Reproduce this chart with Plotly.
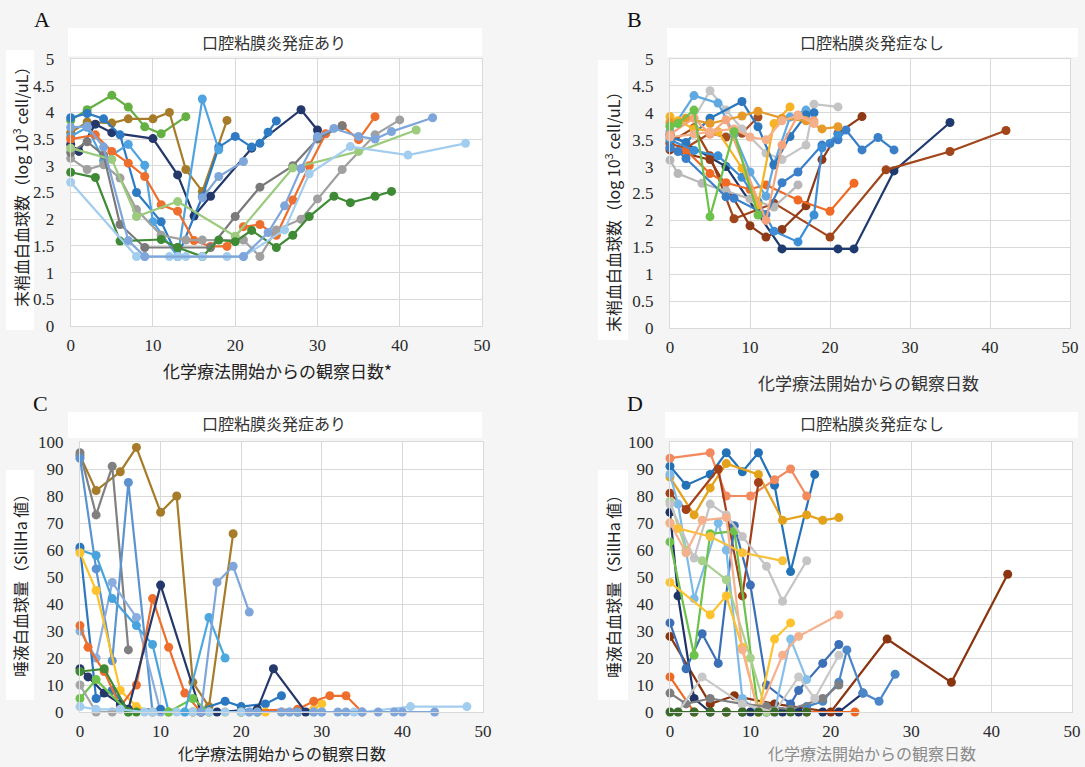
import plotly.graph_objects as go

W, H = 1085, 767

# ---------------- Panel A: peripheral WBC, mucositis (+) ----------------
a_days = [
    [0, 2, 5, 7, 9, 11, 14],
    [0, 2, 5, 7, 10, 12, 14, 16, 19],
    [0, 1, 3, 5, 10, 13, 15, 17, 22, 28, 30],
    [0, 2, 4, 6, 8, 11, 13, 16, 18, 20, 22, 23, 24, 25],
    [0, 2, 4, 7, 9, 10, 13, 16, 18],
    [0, 3, 5, 7, 9, 11, 13, 15, 17, 19, 21, 23, 25, 27, 29, 31, 33, 35, 37],
    [0, 2, 4, 6, 8, 11, 14, 16, 21, 23, 25, 28, 30, 33, 37, 40],
    [0, 2, 4, 6, 9, 13, 17, 20, 23, 27, 30, 33],
    [0, 5, 8, 13, 20, 27, 35, 42],
    [0, 3, 6, 11, 13, 16, 18, 20, 22, 25, 27, 29, 32, 34, 37, 39],
    [0, 8, 9, 12, 13, 14, 16, 19, 21, 26, 29, 34, 41, 48],
    [0, 2, 4, 7, 9, 21, 24, 26, 28, 30, 32, 35, 37, 39, 44],
    [16, 18, 21],
]
a_wbc = [
    [3.85, 4.05, 4.32, 4.10, 3.73, 3.60, 3.92],
    [3.62, 3.82, 3.80, 3.88, 3.88, 4.00, 2.93, 2.52, 3.85],
    [3.40, 3.27, 3.78, 3.62, 3.51, 2.83, 2.06, 2.43, 3.33, 4.05, 3.67],
    [3.90, 3.98, 3.88, 3.58, 2.50, 1.95, 1.30, 2.42, 3.35, 3.55, 3.35, 3.42, 3.63, 3.84],
    [3.55, 3.72, 3.10, 3.40, 3.01, 1.95, 1.30, 4.25, 3.30],
    [3.50, 3.58, 3.27, 3.05, 2.80, 2.27, 2.15, 1.60, 1.49, 1.49, 1.86, 1.90, 1.70, 2.36, 3.00, 3.60, 3.75, 3.49, 3.92],
    [3.14, 2.93, 3.02, 2.77, 2.18, 1.70, 1.61, 1.61, 1.61, 1.30, 1.80, 2.00, 2.38, 2.93, 3.58, 3.86],
    [3.25, 3.45, 3.20, 1.90, 1.47, 1.47, 1.47, 2.05, 2.60, 3.00, 3.50, 3.75],
    [3.33, 3.12, 2.05, 2.33, 1.68, 2.96, 3.27, 3.67],
    [2.88, 2.78, 1.59, 1.62, 1.47, 1.30, 1.61, 1.58, 1.79, 1.47, 1.70, 2.05, 2.43, 2.31, 2.43, 2.52],
    [2.69, 1.30, 1.30, 1.30, 1.30, 1.30, 1.30, 1.30, 1.30, 1.80, 2.85, 3.36, 3.20, 3.42],
    [3.72, 3.74, 3.35, 1.60, 1.30, 1.30, 1.75, 2.25, 2.95, 3.55, 3.70, 3.55, 3.50, 3.64, 3.90],
    [2.40, 2.80, 3.08],
]
a_colors = ["#64b043", "#a67c2a", "#25386b", "#2e7bc4", "#4ea3e0", "#ee6f2d", "#a0a0a0",
            "#7a7a7a", "#9ccb7e", "#3f8a35", "#a3cdee", "#7fa6da", "#7fa6da"]

# ---------------- Panel B: peripheral WBC, mucositis (-) ----------------
b_days = [
    [0, 7, 14, 21, 23, 28, 35],
    [0, 3, 5, 8, 13, 20, 27, 35, 42],
    [0, 5, 10, 12, 14, 17, 19, 21, 24],
    [0, 2, 5, 7, 9, 11],
    [0, 2, 5, 7, 10, 12, 16, 20, 23],
    [0, 1, 4, 7, 10, 13, 16],
    [0, 3, 5, 7, 9, 12, 14, 17, 18, 21],
    [0, 3, 6, 8, 10, 12, 13, 15, 17],
    [0, 2, 5, 9, 11, 13, 15, 17, 18],
    [0, 1, 2, 7, 8, 12, 14, 16, 19, 20, 21, 22, 24, 26, 28],
    [0, 3, 6, 9, 11, 13, 16, 18, 19, 21],
    [0, 1, 3, 6, 9, 11, 13, 15],
    [0, 2, 5, 9, 11, 14, 17, 19, 21],
    [0, 3, 5, 7, 12, 14, 16, 18],
    [0, 3, 5, 8, 10, 12, 14, 16, 18],
    [0, 1, 3, 5, 8, 11],
]
b_wbc = [
    [3.60, 3.00, 1.47, 1.47, 1.47, 2.92, 3.82],
    [3.45, 3.72, 3.20, 2.03, 2.32, 1.69, 2.94, 3.28, 3.67],
    [3.31, 3.13, 1.90, 1.69, 1.83, 2.27, 3.13, 3.62, 3.93],
    [3.42, 3.35, 3.62, 3.55, 3.62, 3.92],
    [3.35, 3.30, 2.87, 2.70, 2.58, 2.66, 2.38, 2.17, 2.69],
    [3.12, 2.87, 2.69, 2.55, 2.40, 2.25, 2.66],
    [3.75, 3.90, 4.41, 4.05, 3.70, 3.25, 3.13, 3.40, 4.16, 4.11],
    [3.65, 4.32, 4.18, 3.60, 2.90, 2.45, 3.05, 3.92, 4.05],
    [3.55, 3.45, 3.90, 4.21, 3.74, 3.03, 3.56, 3.96, 4.00],
    [3.35, 3.28, 3.15, 2.44, 2.41, 2.11, 2.70, 2.90, 3.40, 3.43, 3.50, 3.68, 3.31, 3.54, 3.31],
    [3.50, 3.30, 3.20, 2.80, 2.35, 1.80, 1.60, 2.10, 3.35, 3.60],
    [3.93, 3.85, 3.70, 3.65, 2.97, 2.29, 3.80, 4.11],
    [3.82, 3.90, 3.80, 3.94, 4.03, 3.90, 3.85, 3.70, 3.74],
    [3.60, 3.90, 3.60, 3.87, 2.00, 3.40, 3.96, 3.85],
    [3.55, 3.60, 3.65, 3.70, 3.55, 3.50, 3.85, 3.95, 3.80],
    [3.75, 3.80, 4.05, 2.07, 3.65, 2.10],
]
b_colors = ["#1f3a6e", "#a0461a", "#8e3a16", "#a84d22", "#f06a25", "#b8b8b8", "#c4c4c4",
            "#5fa8e0", "#2b78be", "#3a7fc8", "#3c8ed6", "#f5b325", "#e69a2a", "#f5a47c",
            "#f4b08a", "#6cc24a"]

# ---------------- Panel C: salivary WBC, mucositis (+) ----------------
c_days = [
    [0, 2, 5, 7, 10, 12, 14, 16, 19],
    [0, 2, 4, 6],
    [0, 2, 4, 6, 9],
    [0, 2, 4, 7, 10],
    [0, 2, 4, 7, 9, 11],
    [0, 2, 4, 6, 10, 14, 18, 20, 23, 25],
    [0, 2, 5, 7, 9, 11, 14, 16, 18, 20, 23, 25, 29, 30],
    [0, 1, 3, 5, 7, 9, 11, 13, 15, 27, 29, 31, 33, 35],
    [0, 1, 3, 5, 6, 10, 15, 17, 22, 24, 28],
    [0, 2, 6, 11, 14, 16],
    [0, 3, 6, 7, 20, 22, 27],
    [0, 2, 4],
    [0, 2, 5, 8, 9, 12, 13, 14, 16, 18, 20, 21, 25, 26, 29, 30, 34, 35, 41, 48],
    [21, 22, 25, 26, 27, 29, 30, 32, 33, 35, 37, 39, 40, 44],
    [13, 16, 18],
    [15, 17, 19, 21],
]
c_saliva = [
    [95, 82, 89, 98, 74, 80, 11, 2, 66],
    [96, 73, 91, 23],
    [94, 53, 19, 85, 0],
    [30, 20, 48, 35, 0],
    [60, 58, 42, 32, 25, 0],
    [61, 5, 8, 1, 1, 0, 4, 2, 3, 6],
    [59, 45, 8, 2, 0, 0, 0, 0, 0, 0, 0, 0, 1, 3],
    [32, 24, 15, 2, 10, 42, 24, 7, 0, 1, 4, 6, 6, 0],
    [16, 13, 7, 3, 1, 47, 0, 0, 1, 16, 0],
    [5, 12, 0, 0, 5, 0],
    [15, 16, 0, 0, 0, 0, 0],
    [10, 0, 0],
    [2, 1, 1, 0, 0, 0, 0, 0, 0, 0, 0, 0, 0, 0, 0, 0, 0, 0, 2, 2],
    [0, 0, 0, 0, 0, 0, 0, 0, 0, 0, 0, 0, 0, 0],
    [0, 35, 20],
    [0, 48, 54, 37],
]
c_colors = ["#a67c2a", "#808080", "#5b93d0", "#8aaddd", "#48a3dd", "#2c78c0", "#fdc22c",
            "#ee6f2d", "#25386b", "#6cc24a", "#3f8a35", "#a5a5a5", "#a3cdee", "#7fa6da",
            "#4ea8e0", "#7fa6da"]

# ---------------- Panel D: salivary WBC, mucositis (-) ----------------
d_days = [
    [0, 2, 5, 7, 9, 11, 13, 15, 18],
    [0, 5, 7, 10, 13, 15, 17],
    [0, 3, 5, 7, 11, 14, 17, 19, 21],
    [0, 2, 6, 9, 11],
    [0, 5, 8, 13, 20, 27, 35, 42],
    [0, 1, 3, 5, 7, 9, 10, 12, 14, 16, 19, 21, 24],
    [0, 2, 4, 6, 8, 10, 12, 15, 16, 19, 21],
    [17, 19, 21, 22, 24, 26, 28],
    [0, 1, 3, 6, 7, 9, 11],
    [13, 15, 17],
    [0, 3, 5, 8, 11],
    [0, 2, 4, 7, 10, 12],
    [0, 3, 5, 7, 9, 12, 14, 17],
    [0, 5, 7, 9, 11, 13, 15],
    [0, 1, 5, 9, 14],
    [0, 2, 4, 7, 9, 11, 14, 16, 21],
    [0, 3, 7, 17, 23],
    [0, 2, 5, 9, 12, 15, 19, 21],
    [1, 4, 9, 13, 16, 18, 21],
    [0, 1, 3, 5, 7, 9, 11, 13, 15, 17],
]
d_saliva = [
    [91, 84, 88, 96, 89, 96, 84, 52, 88],
    [94, 96, 80, 80, 86, 90, 80],
    [87, 73, 83, 92, 88, 71, 73, 71, 72],
    [81, 75, 90, 43, 85],
    [28, 3, 6, 3, 0, 27, 11, 51],
    [74, 43, 5, 0, 0, 0, 0, 0, 0, 0, 0, 0, 7],
    [33, 16, 29, 18, 69, 47, 10, 3, 8, 18, 25],
    [2, 4, 11, 23, 7, 4, 14],
    [88, 77, 42, 70, 60, 5, 0],
    [0, 27, 12],
    [63, 21, 66, 67, 0],
    [78, 60, 56, 49, 20, 0],
    [77, 57, 77, 73, 65, 54, 41, 56],
    [48, 36, 43, 24, 0, 27, 33],
    [70, 68, 65, 59, 56],
    [70, 59, 71, 72, 23, 0, 21, 28, 36],
    [13, 0, 0, 0, 0],
    [7, 3, 5, 3, 2, 1, 5, 10],
    [0, 13, 3, 0, 13, 5, 21],
    [0, 0, 0, 0, 0, 0, 0, 0, 0, 0],
]
d_colors = ["#2372b8", "#f28a5e", "#e3a21a", "#a3401a", "#8b3510", "#1f3366", "#3b6fb6",
            "#4a86c8", "#7dbae8", "#86c0ea", "#6cc24a", "#a9d18e", "#c4c4c4", "#fdc22c",
            "#f7c23a", "#f7b08c", "#ee6a22", "#7f7f7f", "#c8c8c8", "#3a6b2a"]

panel_titles = ["口腔粘膜炎発症あり", "口腔粘膜炎発症なし", "口腔粘膜炎発症あり", "口腔粘膜炎発症なし"]
x_title = "化学療法開始からの観察日数"
y_title_wbc = "末梢血白血球数（log 10<sup>3</sup> cell/uL）"
y_title_saliva = "唾液白血球量（SillHa 値）"

# ---------------- layout geometry (pixels) ----------------
def px(x):
    return x / W

def py(y):
    return 1 - y / H

panels = [
    # axis suffix, x0, x1, ybottom, ytop, yrange, dtick
    ("", 70.7, 482, 326, 59, [0, 5], 0.5),
    ("2", 670, 1070, 328, 59, [0, 5], 0.5),
    ("3", 80, 483, 712, 442, [0, 100], 10),
    ("4", 670, 1072, 712, 442, [0, 100], 10),
]

fig = go.Figure()

all_data = [(a_days, a_wbc, a_colors), (b_days, b_wbc, b_colors),
            (c_days, c_saliva, c_colors), (d_days, d_saliva, d_colors)]

for (suffix, *_), (days, vals, cols) in zip(panels, all_data):
    for dd, vv, cc in zip(days, vals, cols):
        fig.add_trace(go.Scatter(
            x=dd, y=vv, mode="lines+markers",
            xaxis="x" + suffix, yaxis="y" + suffix,
            line=dict(color=cc, width=2.2),
            marker=dict(color=cc, size=9),
            cliponaxis=False, showlegend=False, hoverinfo="skip"))

tickfont = dict(family="Liberation Serif", size=17, color="#2a2a2a")
layout = dict(
    width=W, height=H, margin=dict(l=0, r=0, t=0, b=0, autoexpand=False),
    paper_bgcolor="#f5f5f5", plot_bgcolor="#ffffff", showlegend=False,
)
for suffix, x0, x1, yb, yt, yr, dt in panels:
    layout["xaxis" + suffix] = dict(
        domain=[px(x0), px(x1)], range=[0, 50], dtick=10, anchor="y" + suffix,
        showgrid=True, gridcolor="#d9d9d9", gridwidth=1, zeroline=False,
        showline=True, linecolor="#d9d9d9", mirror=True, automargin=False,
        tickfont=tickfont, ticks="", ticklabelstandoff=4)
    layout["yaxis" + suffix] = dict(
        domain=[py(yb), py(yt)], range=yr, dtick=dt, anchor="x" + suffix,
        showgrid=True, gridcolor="#d9d9d9", gridwidth=1, zeroline=False,
        showline=True, linecolor="#d9d9d9", mirror=True, automargin=False,
        tickfont=tickfont, ticks="", ticklabelstandoff=12)
fig.update_layout(**layout)

# white boxes behind titles / y-axis titles
boxes = [(68, 28, 482, 56), (667, 28, 1078, 57), (68, 412, 482, 438), (665, 412, 1078, 438),
         (6, 50, 34, 330), (598, 60, 628, 340), (6, 470, 34, 700), (598, 470, 628, 700)]
for x0, y0, x1, y1 in boxes:
    fig.add_shape(type="rect", xref="paper", yref="paper", x0=px(x0), x1=px(x1),
                  y0=py(y1), y1=py(y0), fillcolor="#ffffff", line=dict(width=0), layer="below")

ann = []
jp = "Noto Sans CJK JP"
# panel letters
for lab, x, y in [("A", 42, 20), ("B", 634, 20), ("C", 40, 403), ("D", 635, 403)]:
    ann.append(dict(text=lab, x=px(x), y=py(y), font=dict(family="Liberation Serif", size=22, color="#111111")))
# panel titles
for t, x, y in zip(panel_titles, [274, 872, 274, 872], [42, 42, 423, 423]):
    ann.append(dict(text=t, x=px(x), y=py(y), font=dict(family=jp, size=16, color="#333333")))
# x titles
for t, x, y, c, s in [(x_title + "*", 277, 370, "#222222", 17), (x_title, 868, 382, "#333333", 17),
                      (x_title, 282, 753, "#222222", 16), (x_title, 872, 753, "#8a8a8a", 16)]:
    ann.append(dict(text=t, x=px(x), y=py(y), font=dict(family=jp, size=s, color=c)))
# y titles
for t, x, y in [(y_title_wbc, 20, 183), (y_title_wbc, 613, 208),
                (y_title_saliva, 20, 582), (y_title_saliva, 613, 583)]:
    ann.append(dict(text=t, x=px(x), y=py(y), textangle=-90,
                    font=dict(family=jp, size=16, color="#222222")))
for a in ann:
    a.update(xref="paper", yref="paper", showarrow=False, xanchor="center", yanchor="middle",
             borderpad=0)
fig.update_layout(annotations=ann)

fig.write_html("out.html", config={"displayModeBar": False},
               post_script="document.body.style.margin='0';")
